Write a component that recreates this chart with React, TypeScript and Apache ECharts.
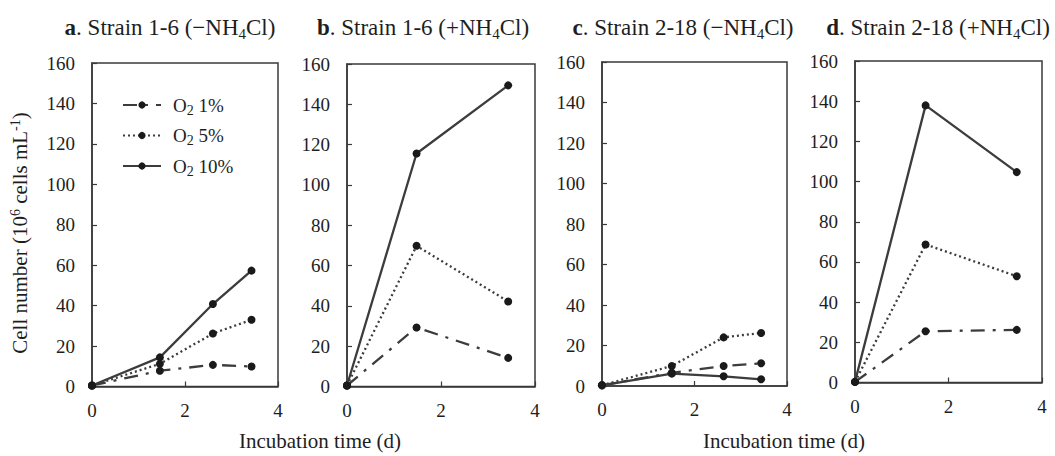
import React, { useEffect, useRef } from "react";
import * as echarts from "echarts";

// ---- data ----
const seriesNames = ["O2 1%", "O2 5%", "O2 10%"];
const panelTitles = [
  "{b|a}. Strain 1-6 (−NH{sub|4}Cl)",
  "{b|b}. Strain 1-6 (+NH{sub|4}Cl)",
  "{b|c}. Strain 2-18 (−NH{sub|4}Cl)",
  "{b|d}. Strain 2-18 (+NH{sub|4}Cl)",
];

const xA = [0, 1.46, 2.6, 3.43];
const a1 = [0.5, 7.8, 10.7, 9.9];
const a5 = [0.5, 11.2, 26.2, 33.0];
const a10 = [0.5, 14.4, 40.8, 57.3];

const xB = [0, 1.48, 3.43];
const b1 = [0.5, 29.3, 14.2];
const b5 = [0.5, 69.8, 42.2];
const b10 = [0.5, 115.6, 149.4];

const xC = [0, 1.51, 2.63, 3.44];
const c1 = [0.35, 6.5, 9.9, 11.2];
const c5 = [0.35, 9.9, 24.0, 26.2];
const c10 = [0.35, 6.1, 4.8, 3.3];

const xD = [0, 1.51, 3.46];
const d1 = [0.3, 25.5, 26.2];
const d5 = [0.3, 68.7, 52.9];
const d10 = [0.3, 137.9, 104.7];

const panels = [
  { x: xA, ys: [a1, a5, a10] },
  { x: xB, ys: [b1, b5, b10] },
  { x: xC, ys: [c1, c5, c10] },
  { x: xD, ys: [d1, d5, d10] },
];

// ---- styling / layout ----
const FONT = "Liberation Serif";
const TXT = "#1e1e1e";
const AX = "#3a3a3a";
const LINE = "#3c3c3c";
const grids = [
  { left: 92, top: 63, width: 186, height: 323.5 },
  { left: 347, top: 64, width: 188, height: 322.5 },
  { left: 602, top: 62, width: 185, height: 324 },
  { left: 855, top: 61, width: 187, height: 321.5 },
];
const titlePos = [170, 423, 683, 938];
const lineTypes: any[] = [[14, 8, 3, 8], [2, 3], "solid"];

export default function App() {
  const ref = useRef<HTMLDivElement>(null);
  useEffect(() => {
    if (!ref.current) return;
    const chart = echarts.init(ref.current, undefined, { renderer: "svg" });

    const axisLabel = { fontSize: 19, fontFamily: FONT, color: TXT };
    const xAxis = grids.map((_, i) => ({
      type: "value",
      gridIndex: i,
      min: 0,
      max: 4,
      interval: 2,
      axisLine: { show: true, onZero: false, lineStyle: { color: AX, width: 1.5 } },
      axisTick: { show: true, inside: true, length: 5, lineStyle: { color: AX, width: 1.2 } },
      axisLabel: { ...axisLabel, margin: 14 },
      splitLine: { show: false },
    }));
    const yAxis = grids.map((_, i) => ({
      type: "value",
      gridIndex: i,
      min: 0,
      max: 160,
      interval: 20,
      axisLine: { show: true, onZero: false, lineStyle: { color: AX, width: 1.5 } },
      axisTick: { show: true, inside: true, length: 5, lineStyle: { color: AX, width: 1.2 } },
      axisLabel: { ...axisLabel, margin: 17 },
      splitLine: { show: false },
    }));

    const series: any[] = [];
    panels.forEach((p, i) => {
      p.ys.forEach((ys, k) => {
        series.push({
          type: "line",
          name: seriesNames[k],
          xAxisIndex: i,
          yAxisIndex: i,
          data: p.x.map((x, j) => [x, ys[j]]),
          symbol: "circle",
          symbolSize: 8,
          showSymbol: true,
          clip: false,
          itemStyle: { color: "#1a1a1a" },
          lineStyle: { color: LINE, width: 2.3, type: lineTypes[k] },
          z: 2 + k,
        });
      });
    });

    const sub = { fontSize: 14, lineHeight: 16, fontFamily: FONT, color: TXT, padding: [10, 0, 0, 0] };
    const graphic: any[] = panelTitles.map((t, i) => ({
      type: "text",
      x: titlePos[i],
      y: 27,
      style: {
        text: t,
        fontSize: 23,
        fontFamily: FONT,
        fill: TXT,
        align: "center",
        verticalAlign: "middle",
        rich: {
          b: { fontSize: 23, fontWeight: "bold", fontFamily: FONT, fill: TXT },
          sub: { fontSize: 15, lineHeight: 16, fontFamily: FONT, fill: TXT, padding: [13, 0, 0, 0] },
        },
      },
    }));
    graphic.push({
      type: "text",
      x: 20,
      y: 233,
      rotation: Math.PI / 2,
      style: {
        text: "Cell number (10{sup|6} cells mL{sup|-1})",
        fontSize: 21,
        fontFamily: FONT,
        fill: TXT,
        align: "center",
        verticalAlign: "middle",
        rich: {
          sup: { fontSize: 14, lineHeight: 16, fontFamily: FONT, fill: TXT, padding: [0, 0, 10, 0] },
        },
      },
    });
    [320, 784].forEach((cx) =>
      graphic.push({
        type: "text",
        x: cx,
        y: 441,
        style: {
          text: "Incubation time (d)",
          fontSize: 21,
          fontFamily: FONT,
          fill: TXT,
          align: "center",
          verticalAlign: "middle",
        },
      })
    );

    chart.setOption({
      animation: false,
      backgroundColor: "#ffffff",
      textStyle: { fontFamily: FONT, color: TXT },
      grid: grids.map((g) => ({
        ...g,
        show: true,
        borderColor: AX,
        borderWidth: 1.5,
        backgroundColor: "transparent",
        containLabel: false,
      })),
      xAxis,
      yAxis,
      legend: {
        data: seriesNames,
        orient: "vertical",
        left: 117,
        top: 88,
        itemWidth: 38,
        itemHeight: 9,
        itemGap: 6.5,
        selectedMode: false,
        formatter: (n: string) => n.replace("O2", "O{sub|2}"),
        textStyle: {
          fontSize: 19,
          fontFamily: FONT,
          color: TXT,
          lineHeight: 23,
          padding: [0, 0, 0, 7],
          rich: { sub },
        },
      },
      graphic,
      series,
    });
    return () => chart.dispose();
  }, []);
  return (
    <div
      ref={ref}
      style={{ position: "fixed", left: 0, top: 0, width: 1055, height: 456 }}
    />
  );
}
